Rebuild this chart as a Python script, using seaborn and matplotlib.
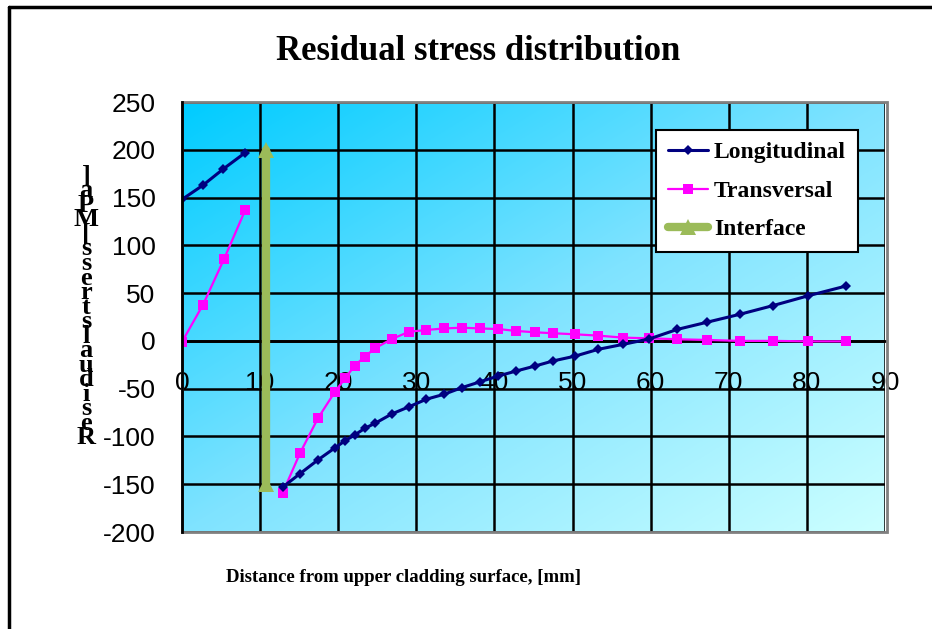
import numpy as np
import pandas as pd
import matplotlib
matplotlib.use("Agg")
import matplotlib.pyplot as plt
from matplotlib.lines import Line2D
from matplotlib.patches import Rectangle
from matplotlib.colors import LinearSegmentedColormap
import seaborn as sns

# ---------------- data ----------------
long_x1 = [0, 2.7, 5.3, 8.1]
long_y1 = [148, 163, 180, 197]
trans_x1 = [0, 2.7, 5.4, 8.1]
trans_y1 = [-1, 38, 86, 137]
x2 = [12.9, 15.1, 17.4, 19.6, 20.9, 22.1, 23.4, 24.7, 26.85, 29.1, 31.3, 33.5,
      35.8, 38.2, 40.5, 42.8, 45.2, 47.5, 50.3, 53.3, 56.5, 59.8, 63.4, 67.2,
      71.4, 75.6, 80.2, 85.0]
long_y2 = [-153, -139, -124.6, -111.8, -104.4, -98.5, -91.5, -86.3, -76.5, -68.8,
           -61, -56, -49, -42.7, -36.7, -31.5, -26.3, -21, -16, -8.8, -3.6, 2,
           12, 19.5, 27.8, 36.8, 47.3, 57.4]
trans_y2 = [-158.8, -117.6, -81, -53, -39, -26, -16.5, -7.8, 2, 9.6, 11.4, 13,
            13.8, 13, 12.4, 10.4, 9, 8, 6.9, 5.5, 3.4, 2.7, 1.7, 1, 0, 0, -0.5, -0.5]
iface_x = [10.75, 10.75]
iface_y = [200, -150]

x_ticks = list(range(0, 91, 10))
y_ticks = list(range(-200, 251, 50))

title = "Residual stress distribution"
xlabel = "Distance from upper cladding surface, [mm]"
ylabel = "Residual stress [MPa]"
series_names = ["Longitudinal", "Transversal", "Interface"]

# ---------------- tables ----------------
def seg_df(xs, ys, seg):
    return pd.DataFrame({"x": xs, "y": ys, "segment": seg})

df_long = pd.concat([seg_df(long_x1, long_y1, 0), seg_df(x2, long_y2, 1)], ignore_index=True)
df_trans = pd.concat([seg_df(trans_x1, trans_y1, 0), seg_df(x2, trans_y2, 1)], ignore_index=True)
df_iface = seg_df(iface_x, iface_y, 0)

sns.set_style("white")
serif = ["Liberation Serif", "DejaVu Serif"]
sans = ["Liberation Sans", "DejaVu Sans"]
plt.rcParams["font.family"] = sans
plt.rcParams["axes.unicode_minus"] = False
plt.rcParams["text.color"] = "black"
plt.rcParams["axes.labelcolor"] = "black"
plt.rcParams["xtick.color"] = "black"
plt.rcParams["ytick.color"] = "black"

fig = plt.figure(figsize=(9.32, 6.29), dpi=100)
ax = fig.add_axes([182 / 932, 97 / 629, 703 / 932, 430 / 629])

# gradient background
n = 200
u = np.linspace(0, 1, n)[None, :]
v = np.linspace(1, 0, n)[:, None]
t = 0.5 * (u + (1 - v))
cmap = LinearSegmentedColormap.from_list("bg", ["#00CCFF", "#7FE3FF", "#CCFFFF"])
ax.imshow(t, cmap=cmap, extent=[0, 1, 0, 1], transform=ax.transAxes,
          aspect="auto", zorder=-1, interpolation="bilinear")
ax.patch.set_visible(False)

# series
col_long = "#000080"
col_trans = "#FF00FF"
col_iface = "#9BBB59"
sns.lineplot(data=df_iface, x="x", y="y", units="segment", estimator=None, sort=False,
             color=col_iface, lw=6, marker="^", markersize=11, markeredgewidth=0,
             ax=ax, legend=False, zorder=3)
sns.lineplot(data=df_trans, x="x", y="y", units="segment", estimator=None, sort=False,
             color=col_trans, lw=1.6, marker="s", markersize=7, markeredgewidth=0,
             ax=ax, legend=False, zorder=4)
sns.lineplot(data=df_long, x="x", y="y", units="segment", estimator=None, sort=False,
             color=col_long, lw=2.2, marker="D", markersize=5, markeredgewidth=0,
             ax=ax, legend=False, zorder=5)

ax.set_xlim(0, 90)
ax.set_ylim(-200, 250)
ax.set_xticks(x_ticks)
ax.set_yticks(y_ticks)
ax.grid(True, color="black", lw=1.8)
ax.set_axisbelow(True)

for s in ["top", "right"]:
    ax.spines[s].set_visible(False)
ax.spines["left"].set_color("black")
ax.spines["left"].set_linewidth(2)
ax.spines["bottom"].set_position(("data", 0))
ax.spines["bottom"].set_color("black")
ax.spines["bottom"].set_linewidth(2)
ax.spines["left"].set_zorder(6)
ax.spines["bottom"].set_zorder(2)

border = Rectangle((0, 0), 1.003, 1, transform=ax.transAxes, fill=False,
                   edgecolor="#808080", lw=2, zorder=2.5, clip_on=False)
ax.add_patch(border)

ax.tick_params(axis="x", direction="out", length=6, width=1.5, pad=16,
               labelsize=19, colors="black")
ax.tick_params(axis="y", direction="out", length=7, width=1.5, pad=12,
               labelsize=19, colors="black")
for lab in ax.get_xticklabels() + ax.get_yticklabels():
    lab.set_fontfamily(sans)

ax.set_xlabel("")
stacked = "\n".join(reversed([c for c in ylabel if c != " "]))
ax.set_ylabel(stacked, rotation=0, fontsize=19, fontweight="bold", family=serif,
              linespacing=0.53, ha="center", va="center", multialignment="center")
ax.yaxis.set_label_coords(-0.1366, 0.523)

fig.text(478 / 932, 1 - 52 / 629, title, ha="center", va="center",
         fontsize=25, fontweight="bold", family=serif)
fig.text(404 / 932, 1 - 577 / 629, xlabel, ha="center", va="center",
         fontsize=13.5, fontweight="bold", family=serif)

handles = [
    Line2D([], [], color=col_long, lw=2.2, marker="D", markersize=5, markeredgewidth=0),
    Line2D([], [], color=col_trans, lw=1.6, marker="s", markersize=7, markeredgewidth=0),
    Line2D([], [], color=col_iface, lw=6, marker="^", markersize=11, markeredgewidth=0),
]
leg = ax.legend(handles, series_names, loc="upper left",
                bbox_to_anchor=((656 - 182) / 703, (532 - 130) / 430),
                prop={"family": serif, "weight": "bold", "size": 17},
                frameon=True, fancybox=False, framealpha=1, edgecolor="black",
                handlelength=1.7, handletextpad=0.25, borderpad=0.5,
                labelspacing=0.72, borderaxespad=0)
leg.get_frame().set_linewidth(1.5)
leg.set_zorder(10)

# figure border (top and left)
fig.add_artist(Line2D([9 / 932, 9 / 932], [0, 1 - 7 / 629], color="black", lw=2.5,
                      transform=fig.transFigure))
fig.add_artist(Line2D([9 / 932, 1], [1 - 7 / 629, 1 - 7 / 629], color="black", lw=2.5,
                      transform=fig.transFigure))

fig.savefig("out.png", dpi=100)
